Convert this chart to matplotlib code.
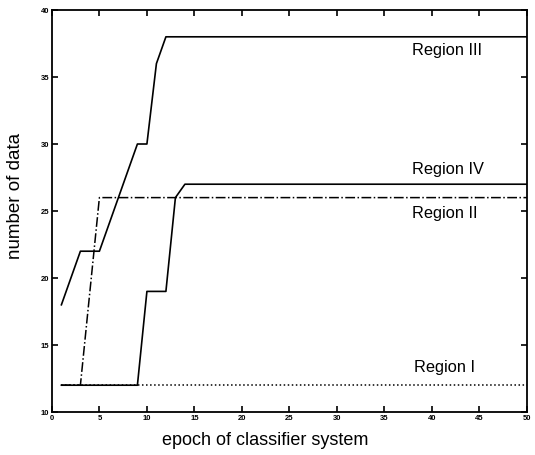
import matplotlib
matplotlib.use("Agg")
import matplotlib.pyplot as plt

plt.rcParams['font.family'] = ['Liberation Sans', 'DejaVu Sans']

# Data (epoch, number of data)
r3_x = [1, 3, 5, 9, 10, 11, 12, 50]
r3_y = [18, 22, 22, 30, 30, 36, 38, 38]

r4_x = [1, 9, 10, 12, 13, 14, 50]
r4_y = [12, 12, 19, 19, 26, 27, 27]

r2_x = [1, 3, 4, 5, 50]
r2_y = [12, 12, 19, 26, 26]

r1_x = [1, 50]
r1_y = [12, 12]

xticks = list(range(0, 51, 5))
yticks = list(range(10, 41, 5))

labels = ["Region III", "Region IV", "Region II", "Region I"]
label_pos = [(37.9, 37.0), (37.9, 28.1), (37.9, 24.8), (38.1, 13.3)]

fig = plt.figure(figsize=(5.35, 4.55), dpi=100)
ax = fig.add_axes([0.097, 0.0945, 0.888, 0.8835])

ax.plot(r1_x, r1_y, color='black', linestyle=':', linewidth=1.1)
ax.plot(r2_x, r2_y, color='black', linestyle='-.', linewidth=1.1)
ax.plot(r4_x, r4_y, color='black', linestyle='-', linewidth=1.2)
ax.plot(r3_x, r3_y, color='black', linestyle='-', linewidth=1.2)

for t, (x, y) in zip(labels, label_pos):
    ax.text(x, y, t, fontsize=11.8, va='center', ha='left')

ax.set_xlim(0, 50)
ax.set_ylim(10, 40)
ax.set_xticks(xticks)
ax.set_yticks(yticks)
ax.tick_params(direction='in', length=4, width=1.2, labelsize=5.5, top=True, right=True, pad=2)
for lab in ax.get_xticklabels() + ax.get_yticklabels():
    lab.set_fontweight('bold')
for s in ax.spines.values():
    s.set_linewidth(1.3)

ax.set_xlabel("epoch of classifier system", fontsize=13)
ax.set_ylabel("number of data", fontsize=13.5)
ax.xaxis.set_label_coords(0.448, -0.05)
ax.yaxis.set_label_coords(-0.058, 0.537)

fig.savefig("out.png", dpi=100)
